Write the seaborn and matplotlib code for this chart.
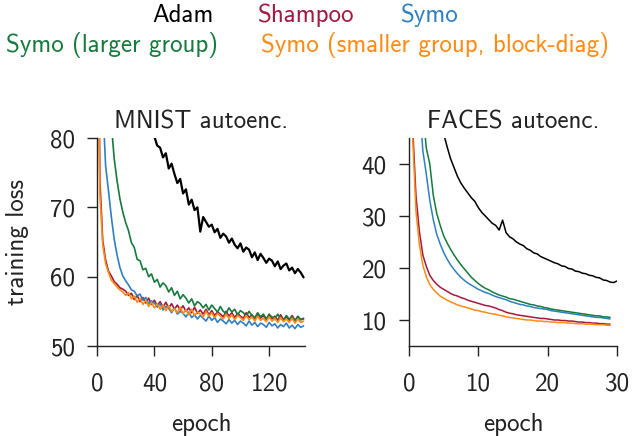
import seaborn as sns
import numpy as np
import pandas as pd
import matplotlib.pyplot as plt

# MNIST autoencoder, sampled every 2 epochs
mnist_epochs = np.arange(0, 145, 2)
mnist_adam = [250, 200, 170, 150, 138, 128, 120, 113, 107, 102,
              98, 95, 92, 90, 88, 86.5, 85, 83.5, 82, 80.9,
              80.2, 78.9, 78.6, 77.2, 77.8, 75.6, 76.3, 74.8, 73.5, 74.1,
              72.0, 72.6, 70.4, 71.1, 69.6, 70.0, 66.5, 68.6, 67.9, 67.2,
              67.5, 66.4, 66.9, 65.6, 66.2, 65.8, 64.9, 65.5, 64.6, 64.1,
              64.8, 63.6, 64.2, 63.9, 62.8, 63.5, 62.4, 63.3, 62.7, 62.0,
              62.6, 62.3, 61.5, 62.2, 61.1, 61.6, 61.9, 60.9, 61.3, 60.5,
              61.1, 60.6, 59.9]
mnist_shampoo = [120, 74, 65.2, 62.4, 60.8, 60.1, 59.3, 58.9, 58.4, 58.2,
                 57.9, 57.3, 57.6, 56.7, 57.3, 56.4, 57.0, 56.2, 56.9, 56.0,
                 56.6, 55.8, 56.4, 55.6, 56.3, 55.5, 56.1, 55.3, 55.9, 55.2,
                 55.8, 55.0, 55.5, 54.8, 55.6, 54.7, 55.2, 54.6, 55.3, 54.5,
                 55.1, 54.4, 54.9, 54.6, 54.2, 55.0, 54.3, 54.8, 54.1, 54.7,
                 54.3, 54.0, 54.8, 54.1, 54.5, 53.9, 54.6, 54.0, 54.4, 53.8,
                 54.6, 53.9, 54.3, 53.7, 54.5, 53.8, 54.2, 53.7, 54.4, 53.7,
                 54.2, 53.8, 54.0]
mnist_symo = [200, 120, 85, 76, 72.4, 68.6, 65.4, 63.1, 61.3, 60.1,
              59.4, 58.8, 58.1, 57.9, 57.2, 57.5, 56.6, 57.0, 56.1, 56.5,
              56.2, 55.6, 56.1, 55.2, 55.7, 55.4, 54.8, 55.5, 54.6, 55.0,
              54.7, 54.2, 54.9, 54.1, 54.5, 53.9, 54.4, 54.0, 53.6, 54.3,
              53.7, 54.1, 53.4, 53.9, 53.6, 53.2, 53.8, 53.3, 53.7, 53.1,
              53.6, 53.3, 52.9, 53.6, 53.0, 53.4, 52.8, 53.3, 53.1, 52.7,
              53.4, 52.9, 53.2, 52.6, 53.1, 52.8, 53.3, 52.6, 53.0, 52.5,
              53.1, 52.7, 52.9]
mnist_symo_large = [300, 200, 140, 110, 92, 82, 77, 73.8, 71.2, 69.3,
                    67.8, 66.6, 64.9, 64.2, 62.5, 62.3, 61.0, 61.2, 60.0, 60.4,
                    59.2, 59.6, 58.5, 59.1, 58.7, 57.8, 58.4, 57.3, 57.9, 56.8,
                    57.4, 56.9, 56.2, 56.8, 55.8, 56.4, 56.1, 55.5, 56.0, 55.2,
                    55.9, 55.4, 54.9, 55.7, 55.0, 54.7, 55.5, 54.9, 55.3, 54.5,
                    55.1, 54.8, 54.3, 55.0, 54.4, 54.1, 54.8, 54.2, 54.6, 53.9,
                    54.5, 54.2, 53.8, 54.6, 54.0, 53.7, 54.4, 53.9, 54.2, 53.6,
                    54.3, 53.8, 53.9]
mnist_symo_small = [110, 72, 64.6, 61.9, 60.6, 59.5, 59.0, 58.5, 58.1, 57.8,
                    57.3, 57.7, 56.8, 57.2, 56.3, 56.9, 56.0, 56.6, 55.7, 56.3,
                    55.5, 56.1, 55.3, 55.9, 55.1, 55.8, 55.0, 55.4, 54.8, 55.6,
                    54.7, 55.2, 54.5, 55.3, 54.4, 54.9, 54.6, 54.2, 55.0, 54.3,
                    54.8, 54.1, 54.7, 54.3, 53.9, 54.6, 54.0, 54.5, 53.8, 54.4,
                    54.1, 53.7, 54.4, 53.8, 54.2, 53.6, 54.3, 53.7, 54.0, 53.5,
                    54.2, 53.6, 54.0, 53.4, 54.1, 53.5, 53.9, 53.4, 54.0, 53.3,
                    53.9, 53.4, 53.6]

# FACES autoencoder, sampled every half epoch
faces_epochs = np.arange(0, 29.5, 0.5)
faces_adam_epochs = np.arange(0, 30.5, 0.5)
faces_adam = [150, 120, 100, 88, 78, 70, 63, 57, 52, 48.5,
              45.8, 43.3, 41.0, 39.3, 37.6, 36.3, 35.3, 34.4, 33.5, 32.8,
              31.6, 30.7, 30.0, 29.3, 28.6, 28.2, 27.3, 29.2, 26.8, 26.0,
              25.6, 25.0, 24.6, 24.3, 23.7, 23.4, 22.9, 22.7, 22.2, 21.9,
              21.6, 21.3, 21.0, 20.8, 20.4, 20.3, 19.9, 19.8, 19.4, 19.3,
              19.0, 18.9, 18.6, 18.5, 18.2, 18.1, 17.7, 17.6, 17.3, 17.2,
              17.5]
faces_shampoo = [150, 48, 34, 27, 22.5, 20.3, 18.6, 17.6, 16.9, 16.3,
                 15.9, 15.5, 15.1, 14.8, 14.6, 14.3, 14.1, 13.8, 13.6, 13.4,
                 13.2, 13.0, 12.8, 12.7, 12.5, 12.3, 12.0, 11.8, 11.5, 11.3,
                 11.2, 11.0, 10.9, 10.8, 10.7, 10.6, 10.5, 10.4, 10.3, 10.3,
                 10.2, 10.1, 10.0, 10.0, 9.9, 9.9, 9.8, 9.8, 9.7, 9.6,
                 9.6, 9.5, 9.5, 9.4, 9.4, 9.3, 9.3, 9.2, 9.2]
faces_symo = [200, 110, 75, 52, 42.5, 38, 33, 29.3, 26.5, 24.6,
              23.0, 21.7, 20.6, 19.7, 18.9, 18.2, 17.6, 17.1, 16.7, 16.3,
              15.9, 15.6, 15.3, 15.1, 14.8, 14.5, 14.3, 14.1, 13.9, 13.6,
              13.4, 13.2, 13.0, 12.9, 12.7, 12.6, 12.4, 12.3, 12.2, 12.1,
              12.0, 11.8, 11.7, 11.6, 11.5, 11.4, 11.3, 11.2, 11.1, 11.0,
              10.9, 10.8, 10.7, 10.6, 10.5, 10.5, 10.4, 10.3, 10.2]
faces_symo_large = [200, 120, 85, 62, 50, 43, 40, 34, 30.5, 28.2,
                    26.2, 24.8, 23.6, 22.5, 21.5, 20.6, 19.8, 19.0, 18.2, 17.6,
                    17.0, 16.5, 16.1, 15.8, 15.4, 15.1, 14.8, 14.6, 14.4, 14.1,
                    14.0, 13.8, 13.6, 13.4, 13.2, 13.0, 12.9, 12.7, 12.6, 12.4,
                    12.3, 12.1, 12.0, 11.9, 11.8, 11.7, 11.6, 11.5, 11.4, 11.3,
                    11.2, 11.1, 11.0, 10.9, 10.8, 10.8, 10.6, 10.6, 10.5]
faces_symo_small = [140, 46, 31, 24.5, 20.5, 18.3, 16.8, 15.9, 15.2, 14.6,
                    14.2, 13.8, 13.5, 13.2, 12.9, 12.7, 12.5, 12.3, 12.1, 11.9,
                    11.8, 11.6, 11.5, 11.3, 11.2, 11.1, 10.9, 10.8, 10.6, 10.5,
                    10.4, 10.3, 10.2, 10.1, 10.0, 10.0, 9.9, 9.8, 9.8, 9.7,
                    9.7, 9.6, 9.6, 9.5, 9.5, 9.5, 9.4, 9.4, 9.3, 9.3,
                    9.3, 9.2, 9.2, 9.2, 9.1, 9.1, 9.1, 9.0, 9.0]

labels = ['Adam', 'Shampoo', 'Symo', 'Symo (larger group)', 'Symo (smaller group, block-diag)']
colors = ['#000000', '#a01a42', '#2f80c0', '#167a3c', '#ff8a14']

sns.set_style('ticks')
plt.rcParams['font.family'] = ['cmss10', 'DejaVu Sans']
plt.rcParams['axes.unicode_minus'] = False
txt = '#222222'

fig = plt.figure(figsize=(6.35, 4.36), dpi=100)
ax1 = fig.add_axes([97/635, 1-346/436, 208/635, 208/436])
ax2 = fig.add_axes([409/635, 1-346/436, 208/635, 208/436])

mnist = [mnist_adam, mnist_shampoo, mnist_symo, mnist_symo_large, mnist_symo_small]
faces = [faces_adam, faces_shampoo, faces_symo, faces_symo_large, faces_symo_small]

for i in range(5):
    sns.lineplot(x=mnist_epochs, y=mnist[i], color=colors[i], lw=1.6 if i == 0 else 1.2, ax=ax1)
    xs = faces_adam_epochs if i == 0 else faces_epochs
    sns.lineplot(x=xs, y=faces[i], color=colors[i], lw=1.1, ax=ax2)

ax1.set_xlim(0, 145)
ax1.set_ylim(50, 80)
ax1.set_xticks([0, 40, 80, 120])
ax1.set_yticks([50, 60, 70, 80])
ax1.set_title('MNIST autoenc.', fontsize=18, color=txt, pad=7)
ax1.set_ylabel('training loss', fontsize=18, color=txt, labelpad=15)

ax2.set_xlim(0, 30)
ax2.set_ylim(5, 45)
ax2.set_xticks([0, 10, 20, 30])
ax2.set_yticks([10, 20, 30, 40])
ax2.set_title('FACES autoenc.', fontsize=18, color=txt, pad=7)

for ax in [ax1, ax2]:
    sns.despine(ax=ax)
    ax.set_xlabel('epoch', fontsize=18, color=txt, labelpad=12.5)
    ax.tick_params(axis='both', direction='out', length=7, width=1, labelsize=18,
                   labelcolor=txt, color='#222222')
    ax.tick_params(axis='x', pad=12)
    ax.tick_params(axis='y', pad=9)
    for s in ['left', 'bottom']:
        ax.spines[s].set_color('#222222')
        ax.spines[s].set_linewidth(1)

# legend as coloured text
fig.text(214/635, 1-22/436, labels[0], color=colors[0], fontsize=18, ha='right', va='baseline')
fig.text(258/635, 1-22/436, labels[1], color=colors[1], fontsize=18, ha='left', va='baseline')
fig.text(401/635, 1-22/436, labels[2], color=colors[2], fontsize=18, ha='left', va='baseline')
fig.text(6/635, 1-52/436, labels[3], color=colors[3], fontsize=18, ha='left', va='baseline')
fig.text(261/635, 1-52/436, labels[4], color=colors[4], fontsize=18, ha='left', va='baseline')

fig.savefig('out.png', dpi=100)
